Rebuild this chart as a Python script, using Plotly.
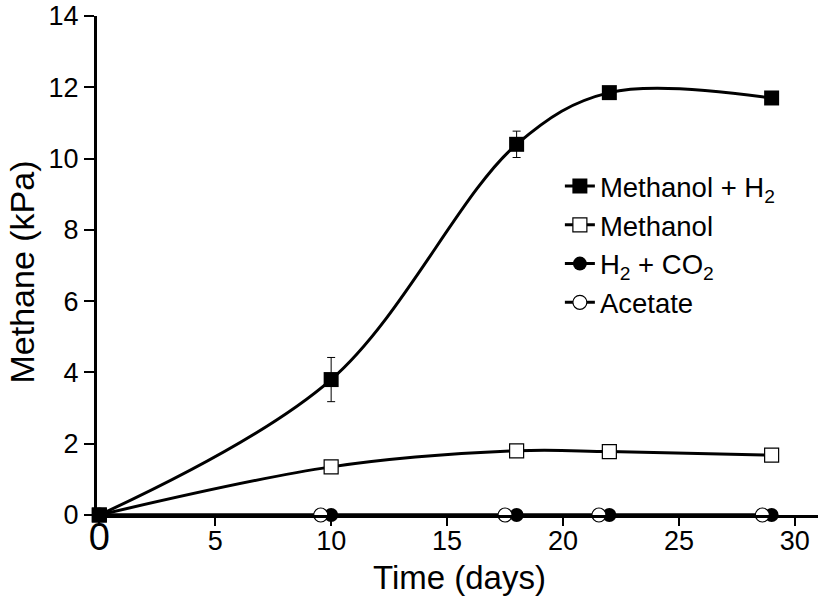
import plotly.graph_objects as go

days = [0, 10, 18, 22, 29]
methanol_h2 = [0, 3.8, 10.4, 11.85, 11.7]
methanol_h2_err = [0, 0.62, 0.37, 0, 0]
methanol = [0, 1.35, 1.8, 1.78, 1.68]
h2_co2 = [0, 0, 0, 0, 0]
acetate_days = [0, 9.55, 17.5, 21.55, 28.6]
acetate = [0, 0, 0, 0, 0]

x_ticks = [0, 5, 10, 15, 20, 25, 30]
y_ticks = [0, 2, 4, 6, 8, 10, 12, 14]

FONT = "Liberation Sans"
LW = 3
MS = 14

fig = go.Figure()
fig.add_trace(go.Scatter(
    x=days, y=h2_co2, name="H<sub>2</sub> + CO<sub>2</sub>", mode="lines+markers",
    line=dict(color="black", width=LW),
    marker=dict(symbol="circle", size=MS, color="black"),
    cliponaxis=False, legendrank=3))
fig.add_trace(go.Scatter(
    x=acetate_days, y=acetate, name="Acetate", mode="lines+markers",
    line=dict(color="black", width=LW),
    marker=dict(symbol="circle", size=MS, color="white", line=dict(color="black", width=1.2)),
    cliponaxis=False, legendrank=4))
fig.add_trace(go.Scatter(
    x=days, y=methanol, name="Methanol", mode="lines+markers",
    line=dict(color="black", width=LW, shape="spline", smoothing=1.0),
    marker=dict(symbol="square", size=MS, color="white", line=dict(color="black", width=1.2)),
    cliponaxis=False, legendrank=2))
fig.add_trace(go.Scatter(
    x=days, y=methanol_h2, name="Methanol + H<sub>2</sub>", mode="lines+markers",
    line=dict(color="black", width=LW, shape="spline", smoothing=1.0),
    marker=dict(symbol="square", size=MS + 1, color="black"),
    error_y=dict(type="data", array=methanol_h2_err, visible=True, color="black",
                 thickness=1, width=4),
    cliponaxis=False, legendrank=1))

fig.update_layout(
    width=820, height=604,
    margin=dict(l=97, r=2, t=16, b=89),
    paper_bgcolor="white", plot_bgcolor="white",
    font=dict(family=FONT, color="black", size=27),
    showlegend=True,
    legend=dict(x=0.642, y=0.708, xanchor="left", yanchor="top",
                bgcolor="rgba(0,0,0,0)", font=dict(size=27.5, family=FONT),
                tracegroupgap=0, itemwidth=30),
    xaxis=dict(range=[-0.1, 31], tickvals=x_ticks,
               ticktext=["<span style='font-size:38px'>0</span>"] + [str(v) for v in x_ticks[1:]],
               showgrid=False, zeroline=False, automargin=False, ticklabeloverflow="allow",
               showline=True, linecolor="black", linewidth=3,
               ticks="outside", ticklen=8, tickwidth=2, tickcolor="black",
               ticklabelstandoff=-8,
               tickfont=dict(size=27, family=FONT)),
    yaxis=dict(range=[0, 14.0], tickvals=y_ticks,
               showgrid=False, zeroline=False, automargin=False, ticklabeloverflow="allow",
               showline=True, linecolor="black", linewidth=3,
               ticks="outside", ticklen=10, tickwidth=2, tickcolor="black",
               tickfont=dict(size=27, family=FONT)),
    annotations=[
        dict(text="Time (days)", xref="paper", yref="paper", x=0.503, y=-0.126,
             xanchor="center", yanchor="middle", showarrow=False,
             font=dict(size=33, family=FONT)),
        dict(text="Methane (kPa)", xref="paper", yref="paper", x=-0.104, y=0.486,
             xanchor="center", yanchor="middle", showarrow=False, textangle=-90,
             font=dict(size=34, family=FONT)),
    ],
)

fig.write_html("out.html", config={"displayModeBar": False},
               post_script="document.body.style.margin='0';")
